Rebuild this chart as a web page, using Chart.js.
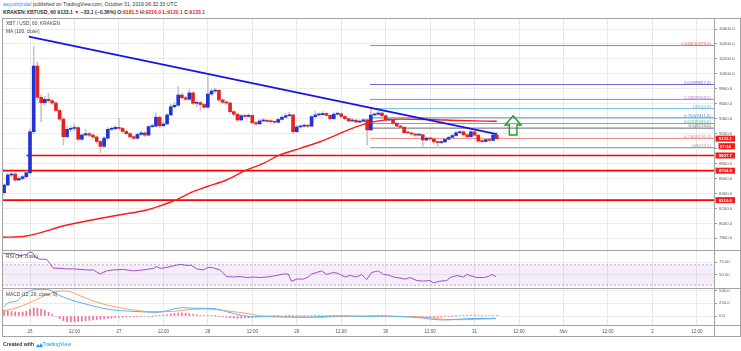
<!DOCTYPE html>
<html>
<head>
<meta charset="utf-8">
<script src="https://cdn.jsdelivr.net/npm/chart.js@4.4.0/dist/chart.umd.min.js"></script>
<style>
body{margin:0;background:#fff;width:741px;height:351px;overflow:hidden;position:relative;font-family:"Liberation Sans",Arial,sans-serif}
canvas{position:absolute;left:0}
.txt{position:absolute;white-space:nowrap;color:#333}
.dn{color:#e32727}
.bd{position:absolute;background:#a3a3a3}
</style>
</head>
<body>
<div class="txt" style="left:3px;top:1px;font-size:5.1px"><span style="color:#2196f3">aayushjindal</span> published on TradingView.com, October 31, 2019 06:32:33 UTC</div>
<div class="txt" style="left:3px;top:9px;font-size:5.1px;font-weight:bold">KRAKEN:XBTUSD, 60 9133.1 <span class="dn">&#9660;</span> &minus;33.1 (&minus;0.36%) O:<span class="dn">9181.5</span> H:<span class="dn">9216.0</span> L:<span class="dn">9120.1</span> C:<span class="dn">9133.1</span></div>

<canvas id="mainChart" width="741" height="232" style="top:18px"></canvas>
<canvas id="rsiChart" width="741" height="38" style="top:250px"></canvas>
<canvas id="macdChart" width="741" height="48" style="top:288px"></canvas>

<div style="position:absolute;left:2px;top:18px;width:737px;height:317px;border:1px solid #a3a3a3"></div>
<div class="bd" style="left:2px;top:250px;width:739px;height:1px"></div>
<div class="bd" style="left:2px;top:288px;width:739px;height:1px"></div>
<div class="bd" style="left:2px;top:325px;width:739px;height:1px"></div>
<div class="bd" style="left:714px;top:18px;width:1px;height:318px"></div>

<div class="txt" style="left:3px;top:341px;font-size:5.2px;font-weight:bold">Created with <svg width="7" height="4" viewBox="0 0 7 4" style="vertical-align:-0.5px"><path d="M0 4 L2 1 L3.5 3 L5 0 L7 4 Z" fill="#2196f3"/></svg><span style="color:#2196f3;font-weight:normal">TradingView</span></div>

<script>
// hourly candles, first one is 25 Oct 17:00 (hour 0 = 26 Oct 00:00)
var firstHour = -7;
var opens = [8410, 8513, 8647, 8660, 8580, 8600, 8624,
    8678, 9226, 10105, 9686, 9614, 9660, 9640, 9610, 9510, 9395,
    9160, 9258, 9270, 9280, 9125, 9182, 9200, 9180, 9155, 9095,
    9030, 9140, 9258, 9265, 9285, 9270, 9230, 9200, 9160, 9138,
    9190, 9210, 9180, 9293, 9300, 9420, 9305, 9330, 9450, 9560,
    9580, 9717, 9680, 9660, 9745, 9606, 9615, 9590, 9553, 9730,
    9770, 9780, 9650, 9620, 9610, 9494, 9460, 9383, 9440, 9430,
    9445, 9347, 9330, 9370, 9375, 9365, 9360, 9352, 9390, 9420,
    9440, 9450, 9226, 9290, 9300, 9305, 9300, 9427, 9450, 9455,
    9470, 9445, 9400, 9460, 9465, 9430, 9400, 9370, 9380, 9355,
    9365, 9385, 9250, 9450, 9460, 9475, 9440, 9383, 9390, 9338,
    9302, 9285, 9213, 9210, 9195, 9180, 9185, 9115, 9140, 9130,
    9092, 9080, 9090, 9125, 9150, 9175, 9213, 9225, 9185, 9160,
    9225, 9180, 9100, 9095, 9120, 9110, 9181.5];
var closes = [8513, 8647, 8660, 8580, 8600, 8624, 8678,
    9226, 10105, 9686, 9614, 9660, 9640, 9610, 9510, 9395, 9160,
    9258, 9270, 9280, 9125, 9182, 9200, 9180, 9155, 9095, 9030,
    9140, 9258, 9265, 9285, 9270, 9230, 9200, 9160, 9138, 9190,
    9210, 9180, 9293, 9300, 9420, 9305, 9330, 9450, 9560, 9580,
    9717, 9680, 9660, 9745, 9606, 9615, 9590, 9553, 9730, 9770,
    9780, 9650, 9620, 9610, 9494, 9460, 9383, 9440, 9430, 9445,
    9347, 9330, 9370, 9375, 9365, 9360, 9352, 9390, 9420, 9440,
    9450, 9226, 9290, 9300, 9305, 9300, 9427, 9450, 9455, 9470,
    9445, 9400, 9460, 9465, 9430, 9400, 9370, 9380, 9355, 9365,
    9385, 9250, 9450, 9460, 9475, 9440, 9383, 9390, 9338, 9302,
    9285, 9213, 9210, 9195, 9180, 9185, 9115, 9140, 9130, 9092,
    9080, 9090, 9125, 9150, 9175, 9213, 9225, 9185, 9160, 9225,
    9180, 9100, 9095, 9120, 9110, 9181.5, 9133.1];
var highs = [8530, 8670, 8690, 8675, 8625, 8640, 8700,
    9260, 10370, 10160, 9720, 9700, 9740, 9660, 9630, 9530, 9410,
    9290, 9300, 9330, 9300, 9200, 9260, 9220, 9200, 9170, 9110,
    9160, 9280, 9290, 9310, 9405, 9290, 9250, 9215, 9175, 9205,
    9230, 9225, 9310, 9330, 9480, 9435, 9360, 9470, 9590, 9620,
    9830, 9740, 9700, 9790, 9760, 9640, 9630, 9605, 9960, 9800,
    9810, 9790, 9670, 9640, 9625, 9510, 9475, 9460, 9460, 9470,
    9455, 9365, 9390, 9400, 9390, 9385, 9375, 9410, 9440, 9470,
    9490, 9460, 9310, 9320, 9330, 9320, 9450, 9500, 9480, 9495,
    9485, 9455, 9480, 9490, 9475, 9440, 9410, 9400, 9390, 9385,
    9400, 9395, 9535, 9480, 9500, 9485, 9450, 9410, 9400, 9350,
    9315, 9295, 9235, 9225, 9205, 9200, 9195, 9160, 9155, 9140,
    9105, 9110, 9140, 9165, 9190, 9230, 9245, 9235, 9195, 9240,
    9235, 9190, 9115, 9135, 9130, 9195, 9216];
var lows = [8380, 8500, 8620, 8560, 8570, 8585, 8610,
    8660, 9200, 9650, 9360, 9580, 9620, 9590, 9490, 9370, 9050,
    9140, 9230, 9240, 9100, 9100, 9170, 9160, 9130, 9070, 8945,
    9010, 9120, 9240, 9250, 9250, 9210, 9180, 9140, 9120, 9125,
    9175, 9160, 9170, 9280, 9290, 9280, 9290, 9320, 9440, 9540,
    9570, 9660, 9640, 9640, 9590, 9560, 9500, 9530, 9540, 9710,
    9750, 9630, 9600, 9590, 9470, 9440, 9360, 9370, 9410, 9420,
    9330, 9310, 9320, 9355, 9350, 9340, 9335, 9345, 9380, 9410,
    9430, 9200, 9215, 9275, 9285, 9280, 9295, 9415, 9435, 9445,
    9430, 9385, 9390, 9445, 9415, 9385, 9355, 9360, 9340, 9345,
    9355, 9050, 9240, 9435, 9450, 9425, 9370, 9370, 9320, 9290,
    9270, 9200, 9195, 9180, 9165, 9170, 9025, 9100, 9110, 9060,
    9013.1, 9065, 9080, 9115, 9140, 9165, 9200, 9170, 9145, 9150,
    9165, 9085, 9080, 9085, 9095, 9100, 9120.1];

// MA (100, close), read at a few points
var maHours = [-7.6, -1, 10, 24, 31.5, 35, 39, 44, 47.7, 53, 58, 63, 67, 72.9, 78.3, 83.7, 88.2, 91.6, 96, 100, 108, 116, 126];
var maValues = [7813, 7831, 7978, 8112, 8179, 8232, 8303, 8424, 8490, 8580, 8704, 8803, 8905, 9004, 9092, 9205, 9293, 9347, 9385, 9395, 9390, 9375, 9365];

// drawn objects
var trendHours = [-0.3, 126];
var trendPrices = [10497, 9195];
var levelPrices = [8907.7, 8704.8, 8310.6];
var levelStart = [-1, -7.6, -7.6];
var fibStart = 91.8;
var fibRatios = ['0', '0.236', '0.5', '0.618', '0.764', '1', '1.236', '1.618', '2.618'];
var fibPrices = [9013.1, 9136.2, 9274.0, 9335.6, 9411.8, 9534.9, 9658.1, 9857.4, 10379.1];
var fibColors = ['#9a9a9a', '#ef8585', '#6f6272', '#4cc58f', '#5c93d3', '#6cbbea', '#b873d8', '#6767de', '#e96b6b'];
var lastPrice = 9133.1;
var countdown = '27:34';
var arrowHour = 130.4, arrowTop = 9440, arrowBottom = 9182;

// RSI (14, close)
var rsiHours = [-7.2, -4.5, -2.7, -0.9, 0, 0.9, 1.3, 2.7, 4.5, 6.3, 8.1, 9.9, 11.7, 13.5, 15.3, 17.1, 18.9, 20.7, 22.5, 25.2,
    27.9, 30.6, 33.3, 34.2, 35.1, 36.9, 40.5, 42.3, 43.6, 45, 46.8, 48.1, 49.5, 51.3, 53.1, 54.9, 56.7, 58.5, 60.3, 62.1,
    63.9, 66.6, 68.4, 69.7, 70.6, 72, 73.8, 75.1, 76, 77.4, 78.7, 80.1, 81.9, 83.2, 85, 86.4, 88.2, 89.5, 90.9, 92.2,
    94, 95.4, 96.7, 98.1, 99.9, 101.2, 102.6, 104.4, 106.2, 108, 108.9, 110.7, 112.5, 113.4, 115.2, 117, 117.9, 119.2, 120.6, 122.4,
    123.7, 124.6, 125.8];
var rsiValues = [92.5, 92.5, 88, 90.6, 95.7, 92.5, 86, 81, 81, 63.5, 63, 62, 62, 61, 60, 60, 52, 58, 60, 61,
    58, 60, 63, 66.7, 63, 65, 71, 69, 69, 62, 60, 65, 64, 60, 47, 46, 47, 45, 46, 45,
    46, 49, 52, 52, 37.6, 42, 42, 46, 52, 55, 58, 51, 55, 53, 46, 49, 46, 51, 41, 55,
    58, 51, 50, 46, 44, 42, 45, 39, 38, 39, 34.5, 38, 39, 45, 49, 46, 51, 48, 45, 45,
    47, 51, 47];

// MACD (12, 26, close, 9)
var macdHours = [-7.2, -5.4, -3.6, -1.8, 0, 1.8, 4.5, 6.3, 8.1, 9.9, 12.6, 15.3, 18.9, 22.5, 26.1, 29.7, 33.3, 36, 38.7, 41.4,
    44.1, 47.7, 50.4, 53.1, 56.7, 60.3, 63.9, 68.4, 72.9, 77.4, 81.9, 86.4, 90.9, 95.4, 99.9, 104.4, 108, 111.6, 115.2, 118.8,
    122.3, 125.8];
var macdValues = [183, 270, 295, 413, 492, 525, 525, 478, 400, 348, 282, 230, 164, 118, 98, 85, 72, 85, 138, 164,
    151, 151, 138, 85, 20, -13, -13, -20, -26, -15, 0, 0, -10, 0, -10, -26, -59, -79, -65, -50,
    -50, -45];
var signalHours = [-7.2, -2.7, 0.9, 5.4, 8.6, 10.8, 13.5, 17.1, 20.7, 24.3, 27.9, 32.4, 36.9, 40.5, 44.1, 47.7, 51.3, 54.9, 58.5, 62.1,
    63.9, 68.4, 72.9, 77.4, 81.9, 86.4, 90.9, 95.4, 99.9, 104.4, 108.9, 113.4, 117.9, 122.3, 125.8];
var signalValues = [98, 183, 295, 446, 492, 478, 400, 295, 217, 164, 118, 85, 85, 105, 131, 138, 118, 85, 52, 6,
    0, -13, -20, -26, -15, -5, 0, -5, -10, -15, -40, -72, -72, -59, -52];
var histValues = [118, 100, 90, 80, 70, 75, 95,
    130, 160, 150, 135, 110, 75, 35,
    -15, -55, -90, -110, -115, -112, -105, -100, -92, -85, -78, -70, -62,
    -55, -48, -42, -36, -30, -26, -22, -20, -18, -15, -12, -10, -6, -3,
    8, 14, 20, 28, 40, 50, 58, 60, 55, 45, 35, 25, 15, 8,
    5, 6, 4, -5, -15, -25, -35, -40, -45, -42, -38, -33, -28, -22, -16,
    -12, -8, -4, 2, 6, 10, 14, 16, 8, 4, 6, 8, 10, 14, 16, 15, 12,
    10, 8, 9, 10, 8, 5, 2, -2, -4, -5, -3, -8, 2, 6, 8, 6,
    2, -2, -6, -10, -14, -18, -22, -26, -28, -30, -33, -32, -30, -28, -25,
    -20, -14, -8, -2, 4, 10, 14, 16, 20, 22, 18, 14, 12, 10, 11, 12];

// axes
var tickHours = [0, 12, 24, 36, 48, 60, 72, 84, 96, 108, 120, 132, 144, 156, 168, 180];
var timeLabels = ['26', '12:00', '27', '12:00', '28', '12:00', '29', '12:00', '30', '12:00', '31', '12:00', 'Nov', '12:00', '2', '12:00'];
var priceTicks = [7800, 8000, 8200, 8400, 8600, 8800, 9000, 9200, 9400, 9600, 9800, 10000, 10200, 10400, 10600];
var rsiTicks = [50, 75];
var macdTicks = [0, 250, 500];

var xMin = -7.56, xMax = 184.62;
var FONT = '"Liberation Sans", Arial, sans-serif';
var UP = '#2233d6', DOWN = '#e4211d';

var hours = closes.map(function(c, i) { return firstHour + i; });
var pts = function(xs, ys) { return xs.map(function(v, i) { return {x: v, y: ys[i]}; }); };

var xAxis = function(showLabels) {
    return {
        type: 'linear', min: xMin, max: xMax, offset: false,
        afterBuildTicks: function(s) { s.ticks = tickHours.map(function(v) { return {value: v}; }); },
        afterFit: function(s) { s.height = showLabels ? 11 : 0; s.paddingLeft = 0; s.paddingRight = 0; },
        grid: {color: '#e8e8e8', drawTicks: false, offset: false},
        border: {display: false},
        ticks: {
            display: showLabels, autoSkip: false, maxRotation: 0, padding: 4, color: '#555',
            font: {size: 4.5, family: FONT},
            callback: function(v) { return timeLabels[tickHours.indexOf(v)]; }
        }
    };
};
var yAxis = function(min, max, ticks, digits) {
    return {
        position: 'right', min: min, max: max,
        afterBuildTicks: function(s) { s.ticks = ticks.map(function(v) { return {value: v}; }); },
        afterFit: function(s) { s.width = 27; s.paddingTop = 0; s.paddingBottom = 0; },
        grid: {color: '#ececec', tickLength: 3, tickColor: '#999'},
        border: {display: false},
        ticks: {
            autoSkip: false, padding: 2, color: '#555', font: {size: 4.3, family: FONT},
            callback: function(v) { return v.toFixed(digits); }
        }
    };
};
var baseOptions = function(scales) {
    return {
        responsive: false, animation: false, devicePixelRatio: 1, events: [],
        layout: {padding: {left: 2, right: 0, top: 0, bottom: 0}},
        plugins: {legend: {display: false}, tooltip: {enabled: false}},
        scales: scales
    };
};

// texts, fib labels, arrow and price boxes on the main pane
var mainLabels = {
    id: 'mainLabels',
    afterDraw: function(chart) {
        var ctx = chart.ctx, area = chart.chartArea, x = chart.scales.x, y = chart.scales.y;
        ctx.save();
        ctx.font = '4.8px ' + FONT;
        ctx.fillStyle = '#444';
        ctx.textAlign = 'left';
        ctx.textBaseline = 'middle';
        ctx.fillText('XBT / USD, 60, KRAKEN', 6, 6);
        ctx.fillText('MA (100, close)', 6, 13.5);

        ctx.font = '4.4px ' + FONT;
        ctx.textAlign = 'right';
        ctx.textBaseline = 'alphabetic';
        fibPrices.forEach(function(p, i) {
            ctx.fillStyle = fibColors[i];
            ctx.fillText(fibRatios[i] + '(' + p.toFixed(1) + ')', area.right - 3, y.getPixelForValue(p) - 0.8);
        });

        var cx = x.getPixelForValue(arrowHour), top = y.getPixelForValue(arrowTop), bot = y.getPixelForValue(arrowBottom);
        ctx.beginPath();
        ctx.moveTo(cx, top);
        ctx.lineTo(cx + 8, top + 9.3);
        ctx.lineTo(cx + 3.8, top + 9.3);
        ctx.lineTo(cx + 3.8, bot);
        ctx.lineTo(cx - 3.8, bot);
        ctx.lineTo(cx - 3.8, top + 9.3);
        ctx.lineTo(cx - 8, top + 9.3);
        ctx.closePath();
        ctx.strokeStyle = '#1f9e24';
        ctx.lineWidth = 1.4;
        ctx.stroke();

        var boxes = [{p: lastPrice, t: lastPrice.toFixed(1), dy: 0, l: 1.5},
                     {p: lastPrice, t: countdown, dy: 7.5, l: 4.5}];
        levelPrices.forEach(function(p) { boxes.push({p: p, t: p.toFixed(1), dy: 0, l: 1.5}); });
        ctx.font = 'bold 4.3px ' + FONT;
        ctx.textAlign = 'center';
        ctx.textBaseline = 'middle';
        boxes.forEach(function(b) {
            var yy = y.getPixelForValue(b.p) + b.dy;
            ctx.fillStyle = '#f41c1c';
            ctx.fillRect(area.right + b.l, yy - 3, 21 - b.l, 6);
            ctx.fillStyle = '#fff';
            ctx.fillText(b.t, area.right + 1.5 + 9.8, yy + 0.2);
        });
        ctx.restore();
    }
};
var paneLabel = function(text) {
    return {
        id: 'paneLabel',
        afterDraw: function(chart) {
            var ctx = chart.ctx;
            ctx.save();
            ctx.font = '4.8px ' + FONT;
            ctx.fillStyle = '#444';
            ctx.textBaseline = 'middle';
            ctx.fillText(text, 6, 7);
            ctx.restore();
        }
    };
};

// main price pane
var mainDatasets = [];
fibPrices.forEach(function(p, i) {
    mainDatasets.push({type: 'line', data: [{x: fibStart, y: p}, {x: xMax, y: p}], borderColor: fibColors[i],
        borderWidth: 1, pointRadius: 0, order: 6});
});
levelPrices.forEach(function(p, i) {
    mainDatasets.push({type: 'line', data: [{x: levelStart[i], y: p}, {x: xMax, y: p}], borderColor: '#ff0000',
        borderWidth: 1.6, pointRadius: 0, order: 5});
});
mainDatasets.push({
    type: 'bar', grouped: false, barThickness: 1, order: 4, backgroundColor: '#c6c6c6',
    data: hours.map(function(h, i) { return {x: h, y: [lows[i], highs[i]]}; })
});
mainDatasets.push({
    type: 'bar', grouped: false, barThickness: 3, minBarLength: 1, order: 3,
    backgroundColor: hours.map(function(h, i) { return closes[i] >= opens[i] ? UP : DOWN; }),
    data: hours.map(function(h, i) { return {x: h, y: [opens[i], closes[i]]}; })
});
mainDatasets.push({type: 'line', data: pts(maHours, maValues), borderColor: '#ff1a1a', borderWidth: 1.4,
    pointRadius: 0, cubicInterpolationMode: 'monotone', order: 2});
mainDatasets.push({type: 'line', data: pts(trendHours, trendPrices), borderColor: '#1515e8', borderWidth: 1.8,
    pointRadius: 0, order: 1});

var mainChart = new Chart(document.getElementById('mainChart'), {
    type: 'bar',
    data: {datasets: mainDatasets},
    options: baseOptions({x: xAxis(false), y: yAxis(7643.5, 10747.2, priceTicks, 1)}),
    plugins: [mainLabels]
});

// RSI pane
var rsiChart = new Chart(document.getElementById('rsiChart'), {
    type: 'line',
    data: {datasets: [
        {data: [{x: xMin, y: 70}, {x: xMax, y: 70}], borderColor: '#c9a3da', borderDash: [2, 2], borderWidth: 1, pointRadius: 0, order: 2},
        {data: [{x: xMin, y: 30}, {x: xMax, y: 30}], borderColor: '#c9a3da', borderDash: [2, 2], borderWidth: 1, pointRadius: 0,
            fill: '-1', backgroundColor: 'rgba(160, 80, 210, 0.1)', order: 2},
        {data: pts(rsiHours, rsiValues), borderColor: '#a04fc8', borderWidth: 1, pointRadius: 0, order: 1}
    ]},
    options: baseOptions({x: xAxis(false), y: yAxis(24.4, 99.2, rsiTicks, 2)}),
    plugins: [paneLabel('RSI (14, close)')]
});

// MACD pane with time axis
var macdChart = new Chart(document.getElementById('macdChart'), {
    type: 'bar',
    data: {datasets: [
        {type: 'bar', grouped: false, barThickness: 1, backgroundColor: '#f26ba0', order: 3,
            data: hours.map(function(h, i) { return {x: h, y: histValues[i]}; })},
        {type: 'line', data: pts(signalHours, signalValues), borderColor: '#ff9f5a', borderWidth: 1, pointRadius: 0,
            cubicInterpolationMode: 'monotone', order: 2},
        {type: 'line', data: pts(macdHours, macdValues), borderColor: '#55b4f2', borderWidth: 1, pointRadius: 0,
            cubicInterpolationMode: 'monotone', order: 1}
    ]},
    options: baseOptions({x: xAxis(true), y: yAxis(-177, 551, macdTicks, 1)}),
    plugins: [paneLabel('MACD (12, 26, close, 9)')]
});
</script>
</body>
</html>
